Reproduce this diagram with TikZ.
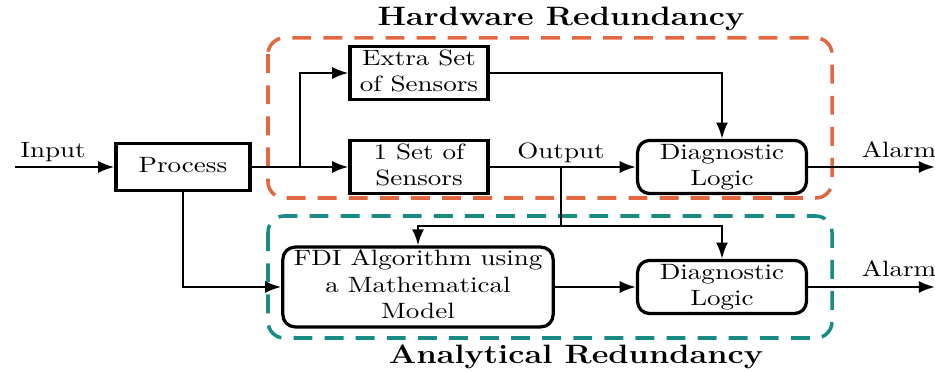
\documentclass[tikz,border=0pt]{standalone}
\usepackage{graphicx}
\usetikzlibrary{arrows.meta}
\definecolor{hwred}{RGB}{226,104,66}
\definecolor{anteal}{RGB}{24,140,132}
\newcommand{\sq}[1]{\scalebox{1}[0.82]{\begin{tabular}{@{}c@{}}#1\end{tabular}}}
\newcommand{\sqt}[1]{\scalebox{1}[0.82]{\large\bfseries #1}}
\begin{document}
\begin{tikzpicture}[x=0.37pt,y=-0.37pt,
  box/.style={draw, line width=1.2pt, inner sep=0pt},
  sqbox/.style={box, minimum width=51pt, minimum height=18pt},
  rbox/.style={box, rounded corners=4.5pt},
  conn/.style={line width=0.9pt, -{Latex[length=6pt,width=4.5pt]}},
  wire/.style={line width=0.9pt},
  lbl/.style={inner sep=0pt},
  region/.style={line width=1.3pt, dash pattern=on 7pt off 4.5pt, rounded corners=6pt}]
\useasboundingbox (0,0) rectangle (935,372);

% regions
\draw[region, hwred] (268,38) rectangle (832,198);
\draw[region, anteal] (268,216) rectangle (832,338);
\node[lbl] (thw) at (561,19) {\sqt{Hardware Redundancy}};
\node[lbl] (tan) at (576,357) {\sqt{Analytical Redundancy}};

% blocks
\node[box, minimum width=49.6pt, minimum height=17.4pt] (proc) at (183,167) {\sq{Process}};
\node[sqbox] (extra) at (419,73) {\sq{Extra Set\\of Sensors}};
\node[sqbox] (sens) at (419,167) {\sq{1 Set of\\Sensors}};
\node[rbox, minimum width=62.5pt, minimum height=17.4pt] (diag1) at (722,167) {\sq{Diagnostic\\Logic}};
\node[rbox, minimum width=100pt, minimum height=28.5pt] (fdi) at (418,287) {\sq{FDI Algorithm using\\a Mathematical\\Model}};
\node[rbox, minimum width=62.5pt, minimum height=17.4pt] (diag2) at (722,287) {\sq{Diagnostic\\Logic}};

% labels
\node[lbl] (linput) at (53,152) {\sq{Input}};
\node[lbl] (loutput) at (561,153) {\sq{Output}};
\node[lbl] (lalarm1) at (899,152) {\sq{Alarm}};
\node[lbl] (lalarm2) at (899,271) {\sq{Alarm}};

% coordinates
\coordinate (inL) at (15,167);
\coordinate (br) at (300,167);
\coordinate (ob) at (561,167);
\coordinate (oj) at (561,226);
\coordinate (alr1) at (935,167);
\coordinate (alr2) at (935,287);

% connectors
\draw[conn] (inL) -- (proc);
\draw[conn] (proc) -- (sens);
\draw[conn] (br) |- (extra);
\draw[conn] (extra) -| (diag1);
\draw[conn] (sens) -- (diag1);
\draw[wire] (ob) -- (oj);
\draw[conn] (oj) -| (fdi);
\draw[conn] (oj) -| (diag2);
\draw[conn] (proc) |- (fdi);
\draw[conn] (fdi) -- (diag2);
\draw[conn] (diag1) -- (alr1);
\draw[conn] (diag2) -- (alr2);
\end{tikzpicture}
\end{document}
